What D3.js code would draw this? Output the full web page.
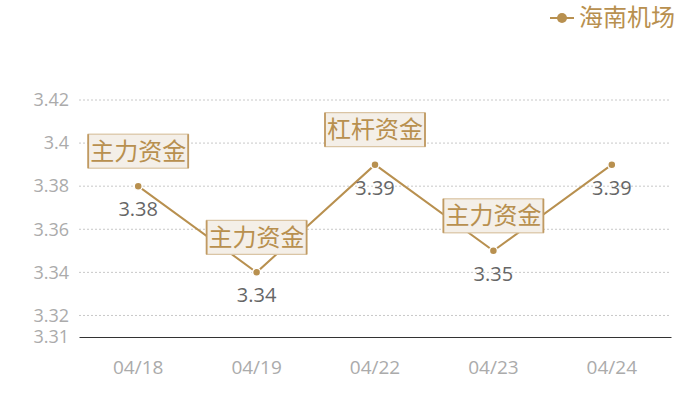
<!DOCTYPE html>
<html>
<head>
<meta charset="utf-8">
<script src="https://cdn.jsdelivr.net/npm/d3@7"></script>
<style>
  html, body { margin: 0; padding: 0; background: #fff; }
  svg { display: block; font-family: "Open Sans", "Noto Sans CJK SC", sans-serif; }
</style>
</head>
<body>
<svg id="chart" width="700" height="400"></svg>
<script>
// Chart data
const dates = ["04/18", "04/19", "04/22", "04/23", "04/24"];
const prices = [3.38, 3.34, 3.39, 3.35, 3.39];
const notes = ["主力资金", "主力资金", "杠杆资金", "主力资金", null];
const yTicks = [3.31, 3.32, 3.34, 3.36, 3.38, 3.4, 3.42];
const seriesName = "海南机场";

const gold = "#b8904f";
const margin = { top: 100, right: 29, bottom: 63, left: 79 };
const width = 700, height = 400;
const innerWidth = width - margin.left - margin.right;
const innerHeight = height - margin.top - margin.bottom;

const svg = d3.select("#chart");
const g = svg.append("g").attr("transform", `translate(${margin.left},${margin.top})`);

const xScale = d3.scaleBand().domain(dates).range([0, innerWidth]).padding(0);
const yScale = d3.scaleLinear().domain([3.31, 3.42]).range([innerHeight, 0]);
const xPos = d => xScale(d) + xScale.bandwidth() / 2;

/*******************/
/*  Grid and axes  */
/*******************/
g.append("g")
  .selectAll("line")
  .data(yTicks.filter(t => t !== 3.31))
  .join("line")
    .attr("x1", 0)
    .attr("x2", innerWidth)
    .attr("y1", d => yScale(d))
    .attr("y2", d => yScale(d))
    .attr("stroke", "#c8c8c8")
    .attr("stroke-dasharray", "2,2");

const yAxis = g.append("g")
  .call(d3.axisLeft(yScale).tickValues(yTicks).tickSize(0).tickPadding(10).tickFormat(d => String(+d.toFixed(2))));
yAxis.attr("font-size", 18).attr("font-family", "'Open Sans', sans-serif");
yAxis.select(".domain").remove();
yAxis.selectAll("text").attr("fill", "#ababab");

const xAxis = g.append("g")
  .attr("transform", `translate(0,${innerHeight})`)
  .call(d3.axisBottom(xScale).tickSize(0).tickPadding(24));
xAxis.attr("font-size", 19).attr("font-family", "'Open Sans', sans-serif");
xAxis.select(".domain").attr("stroke", "#333").attr("stroke-width", 1);
xAxis.selectAll("text").attr("fill", "#ababab");

/***************/
/*  The line   */
/***************/
const points = dates.map((d, i) => ({ date: d, value: prices[i], note: notes[i] }));

g.append("path")
  .datum(points)
  .attr("fill", "none")
  .attr("stroke", gold)
  .attr("stroke-width", 2)
  .attr("d", d3.line().x(d => xPos(d.date)).y(d => yScale(d.value)));

g.selectAll(".dot")
  .data(points)
  .join("circle")
    .attr("class", "dot")
    .attr("cx", d => xPos(d.date))
    .attr("cy", d => yScale(d.value))
    .attr("r", 4)
    .attr("fill", gold)
    .attr("stroke", "#fff")
    .attr("stroke-width", 1.5);

g.selectAll(".value-label")
  .data(points)
  .join("text")
    .attr("class", "value-label")
    .attr("x", d => xPos(d.date))
    .attr("y", d => yScale(d.value) + 30)
    .attr("text-anchor", "middle")
    .attr("fill", "#666")
    .attr("font-size", 20)
    .text(d => d.value.toFixed(2));

/*****************/
/*  Annotations  */
/*****************/
const noteG = g.selectAll(".note")
  .data(points.filter(d => d.note))
  .join("g")
    .attr("class", "note")
    .attr("transform", d => `translate(${xPos(d.date)},${yScale(d.value) - 35})`);

noteG.append("rect")
  .attr("x", -50)
  .attr("y", -17)
  .attr("width", 100)
  .attr("height", 34)
  .attr("fill", "#f4efe8")
  .attr("stroke", "#d9c3a2")
  .attr("stroke-width", 1.2);

noteG.selectAll(".side")
  .data([-50, 50])
  .join("line")
    .attr("x1", d => d)
    .attr("x2", d => d)
    .attr("y1", -17)
    .attr("y2", 17)
    .attr("stroke", "#c09a62")
    .attr("stroke-width", 1.8);

noteG.append("text")
  .attr("y", 8.5)
  .attr("text-anchor", "middle")
  .attr("fill", "#b8904f")
  .attr("font-family", "'Noto Sans CJK SC', sans-serif")
  .attr("font-size", 24)
  .text(d => d.note);

/************/
/*  Legend  */
/************/
const legend = svg.append("g").attr("transform", "translate(550,18)");
legend.append("line").attr("x1", 0).attr("x2", 24).attr("stroke", gold).attr("stroke-width", 2);
legend.append("circle").attr("cx", 12).attr("r", 5).attr("fill", gold);
legend.append("text")
  .attr("x", 29)
  .attr("y", 8)
  .attr("fill", gold)
  .attr("font-family", "'Noto Sans CJK SC', sans-serif")
  .attr("font-size", 24)
  .text(seriesName);
</script>
</body>
</html>
